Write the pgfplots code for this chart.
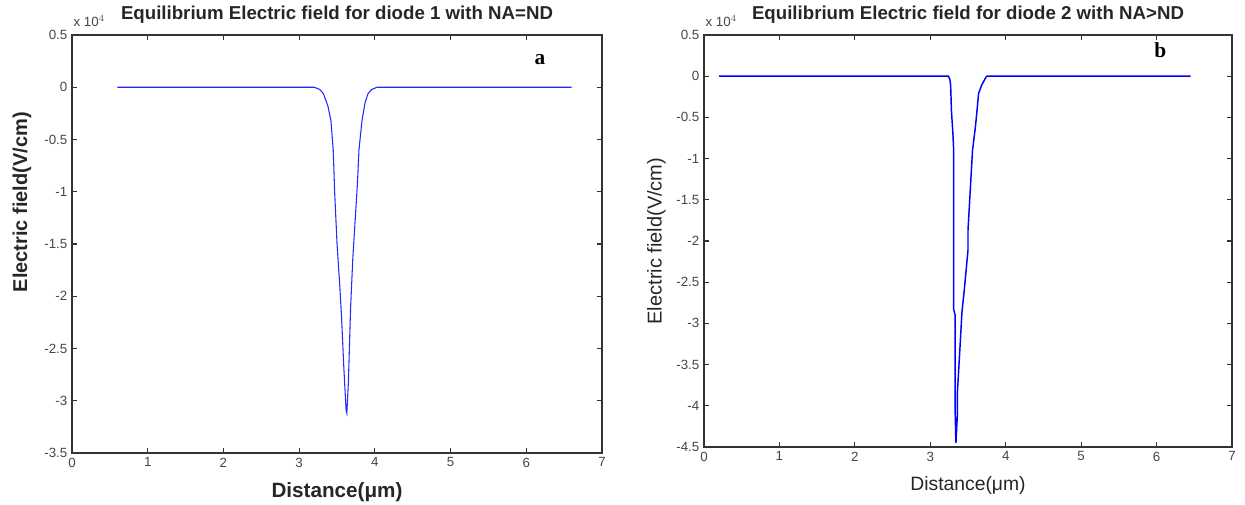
\documentclass[border=0pt]{standalone}
\usepackage{fontspec}
\setmainfont{Liberation Sans}
\newfontfamily\timesfont{Liberation Serif}
\usepackage{pgfplots}
\pgfplotsset{compat=1.18}
\definecolor{tickgray}{RGB}{70,70,70}
\pgfplotsset{
  matlab/.style={
    scale only axis,
    anchor=south west,
    axis line style={black!80, line width=1.1pt},
    tick style={black!80, line width=0.9pt},
    major tick length=4pt,
    tick align=inside,
    xmin=0, xmax=7,
    xtick={0,1,2,3,4,5,6,7},
    xticklabels={0,1,2,3,4,5,6,7},
    tick label style={font=\fontsize{10}{12}\selectfont, text=tickgray},
    title style={font=\fontsize{14}{16}\selectfont\bfseries, text=black!85, yshift=-1pt},
    xlabel={Distance(μm)},
    ylabel={Electric field(V/cm)},
    /pgf/number format/assume math mode=true,
    clip=false,
  }
}
\begin{document}
\begin{tikzpicture}
\path[use as bounding box] (0,0) rectangle (933.75pt,378pt);
% ---------- panel a ----------
\begin{axis}[matlab,
  at={(54pt,38.25pt)}, width=397.5pt, height=313.5pt,
  ymin=-3.5, ymax=0.5,
  ytick={-3.5,-3,-2.5,-2,-1.5,-1,-0.5,0,0.5},
  yticklabels={-3.5,-3,-2.5,-2,-1.5,-1,-0.5,0,0.5},
  title={Equilibrium Electric field for diode 1 with NA=ND},
  xlabel style={font=\fontsize{15.5}{17}\selectfont\bfseries, text=black!85},
  xlabel shift=5pt,
  ylabel style={font=\fontsize{15}{17}\selectfont\bfseries, text=black!85, at={(ticklabel cs:0.6)}},
  ylabel shift=3pt,
]
\addplot[blue!85, line width=0.8pt] coordinates {
(0.6,0) (3.20,0) (3.27,-0.02) (3.32,-0.06) (3.38,-0.18) (3.42,-0.32)
(3.45,-0.60) (3.47,-1.02) (3.50,-1.49) (3.54,-1.94) (3.56,-2.20)
(3.59,-2.68) (3.62,-3.09) (3.63,-3.12) (3.65,-2.83) (3.68,-2.10)
(3.71,-1.62) (3.77,-0.92) (3.79,-0.60) (3.83,-0.32) (3.87,-0.15)
(3.91,-0.06) (3.96,-0.02) (4.03,0) (6.6,0)
};
\node[anchor=south west, inner sep=0pt, font=\fontsize{10}{11}\selectfont, text=tickgray]
  at (rel axis cs:0,1) [xshift=1pt, yshift=6pt] {x 10$^{4}$};
\node[font=\fontsize{16}{17}\selectfont\timesfont\bfseries] at (axis cs:6.18,0.26) {a};
\end{axis}
% ---------- panel b ----------
\begin{axis}[matlab,
  at={(528pt,42.75pt)}, width=396pt, height=309pt,
  ymin=-4.5, ymax=0.5,
  ytick={-4.5,-4,-3.5,-3,-2.5,-2,-1.5,-1,-0.5,0,0.5},
  yticklabels={-4.5,-4,-3.5,-3,-2.5,-2,-1.5,-1,-0.5,0,0.5},
  title={Equilibrium Electric field for diode 2 with NA>ND},
  xlabel style={font=\fontsize{14.5}{16}\selectfont, text=black!85},
  xlabel shift=5pt,
  ylabel style={font=\fontsize{15}{17}\selectfont, text=black!85},
  ylabel shift=1pt,
]
\addplot[blue, line width=1.1pt] coordinates {
(0.2,0) (3.24,0) (3.26,-0.04) (3.27,-0.11) (3.28,-0.41) (3.30,-0.70)
(3.31,-0.90) (3.31,-2.83) (3.33,-2.90) (3.33,-4.09) (3.34,-4.45)
(3.36,-4.09) (3.36,-3.83) (3.39,-3.35) (3.42,-2.86) (3.45,-2.60)
(3.50,-2.11) (3.50,-1.87) (3.53,-1.38) (3.56,-0.90) (3.60,-0.60)
(3.62,-0.41) (3.64,-0.21) (3.68,-0.11) (3.74,-0.01) (3.75,0) (6.45,0)
};
\node[anchor=south west, inner sep=0pt, font=\fontsize{10}{11}\selectfont, text=tickgray]
  at (rel axis cs:0,1) [xshift=1pt, yshift=6pt] {x 10$^{4}$};
\node[font=\fontsize{16}{17}\selectfont\timesfont\bfseries] at (axis cs:6.05,0.32) {b};
\end{axis}
\end{tikzpicture}
\end{document}
